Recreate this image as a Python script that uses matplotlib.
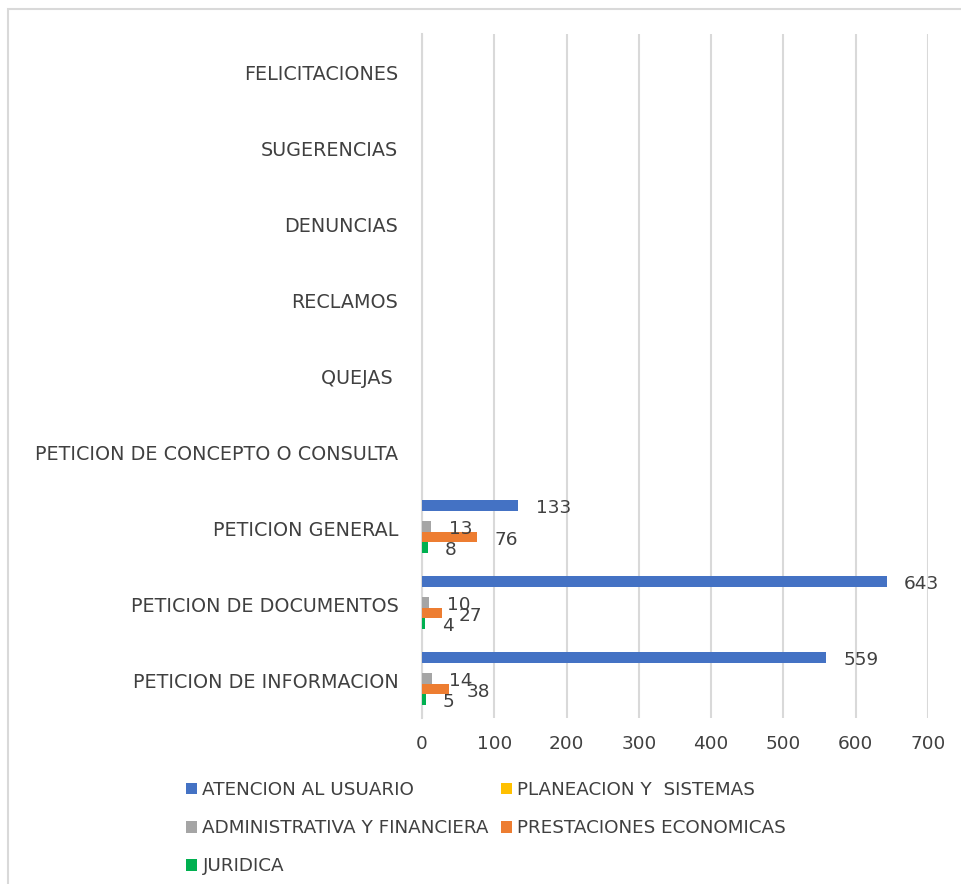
import matplotlib
matplotlib.use("Agg")
import matplotlib.pyplot as plt
from matplotlib.patches import Patch, Rectangle
import numpy as np

categories = ["PETICION DE INFORMACION", "PETICION DE DOCUMENTOS", "PETICION GENERAL",
              "PETICION DE CONCEPTO O CONSULTA", "QUEJAS ", "RECLAMOS", "DENUNCIAS",
              "SUGERENCIAS", "FELICITACIONES"]
series_names = ["ATENCION AL USUARIO", "PLANEACION Y  SISTEMAS", "ADMINISTRATIVA Y FINANCIERA",
                "PRESTACIONES ECONOMICAS", "JURIDICA"]
atencion = [559, 643, 133, 0, 0, 0, 0, 0, 0]
planeacion = [0, 0, 0, 0, 0, 0, 0, 0, 0]
administrativa = [14, 10, 13, 0, 0, 0, 0, 0, 0]
prestaciones = [38, 27, 76, 0, 0, 0, 0, 0, 0]
juridica = [5, 4, 8, 0, 0, 0, 0, 0, 0]
colors = ["#4472C4", "#FFC000", "#A5A5A5", "#ED7D31", "#00B050"]
xticks = [0, 100, 200, 300, 400, 500, 600, 700]

plt.rcParams['font.family'] = ['DejaVu Sans']
txt = "#404040"

fig = plt.figure(figsize=(9.62, 8.84), dpi=100)
ax = fig.add_axes([422/962, 1-718/884, (928-422)/962, (718-34)/884])

series = [atencion, planeacion, administrativa, prestaciones, juridica]
n = len(series)
h = 0.138
y = np.arange(len(categories))
for i, (vals, c) in enumerate(zip(series, colors)):
    offs = (n - 1) / 2 * h - i * h + 0.02
    pos = y + offs
    ax.barh(pos, vals, height=h, color=c, zorder=3)
    for p, v in zip(pos, vals):
        if v > 0:
            ax.annotate(str(v), xy=(v, p), xytext=(12.5, -2), textcoords="offset points",
                        ha="left", va="center", fontsize=13.3, color=txt, zorder=4)

ax.set_xlim(0, 700)
ax.set_ylim(-0.5, len(categories) - 0.5)
ax.set_xticks(xticks)
ax.set_xticklabels([str(t) for t in xticks])
ax.set_yticks(y)
ax.set_yticklabels(categories, fontsize=13.8)
ax.tick_params(axis="both", length=0, colors=txt)
ax.tick_params(axis="x", labelsize=13.3, pad=12)
ax.tick_params(axis="y", pad=17)
ax.xaxis.grid(True, color="#D9D9D9", linewidth=1.5, zorder=0)
for s in ["top", "right", "bottom"]:
    ax.spines[s].set_visible(False)
ax.spines["left"].set_color("#D9D9D9")
ax.spines["left"].set_linewidth(1.5)

handles = [Patch(facecolor=c, edgecolor='none') for c in colors]
order = [0, 2, 4, 1, 3]
leg = fig.legend([handles[i] for i in order], [series_names[i] for i in order],
                 ncol=2, loc="upper left", bbox_to_anchor=(186/962, 1-781/884),
                 frameon=False, fontsize=13.2, handlelength=0.6, handleheight=0.6,
                 handletextpad=0.3, columnspacing=0.65, labelspacing=1.1,
                 labelcolor=txt, borderaxespad=0, borderpad=0)

fig.patches.append(Rectangle((8/962, -0.1), 1.5, 1-9/884+0.1, transform=fig.transFigure,
                             fill=False, edgecolor="#D9D9D9", linewidth=1.5))

fig.savefig("out.png", dpi=100)
